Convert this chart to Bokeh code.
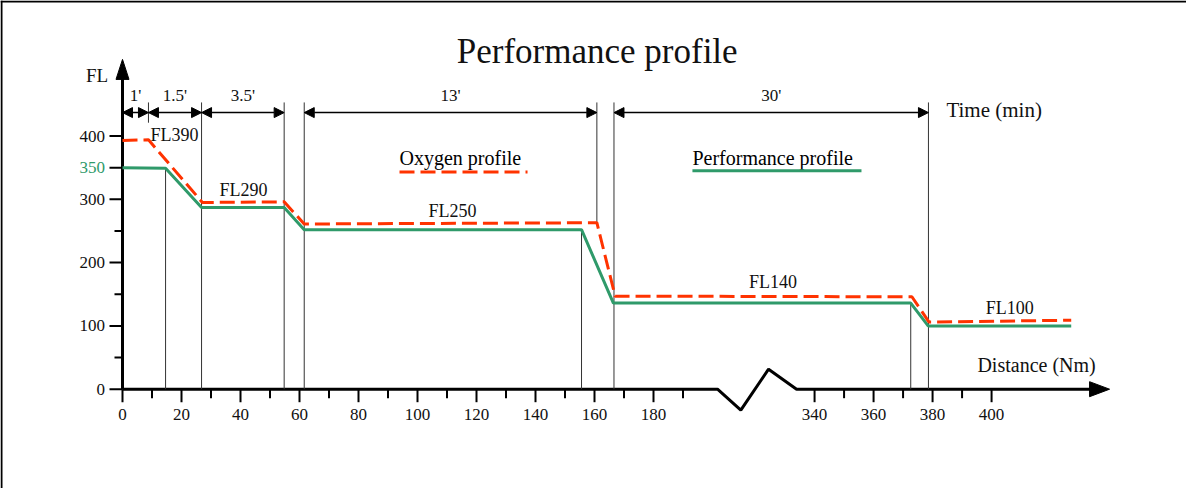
from bokeh.plotting import figure
from bokeh.models import Arrow, NormalHead, ColumnDataSource, Range1d
from bokeh.embed import file_html
from bokeh.resources import INLINE
from bokeh.core.properties import value

# ---------------- data (distance in Nm, altitude in FL) ----------------
perf_dist = [0, 14.6, 26.8, 54.8, 61.6, 155.6, 166.4, 372.6, 378.5, 427]
perf_fl = [350, 349, 287, 287, 252, 252, 136, 136, 100, 100]
oxy_dist = [0, 8.8, 27.1, 54.8, 61.6, 160.8, 167.0, 373.0, 378.8, 427]
oxy_fl = [393, 394, 295, 296, 261, 263, 147, 146, 106, 109]

time_start = [0, 8.8, 26.8, 61.6, 166.6]
time_end = [8.8, 26.8, 54.8, 160.8, 378.6]
time_labels = ["1'", "1.5'", "3.5'", "13'", "30'"]

vline_dist = [8.8, 14.6, 26.8, 54.8, 61.6, 155.6, 160.8, 166.6, 372.6, 378.6]
vline_top = [453, 349, 453, 453, 453, 252, 453, 453, 136, 453]
vline_bottom = [421, 0, 0, 0, 0, 0, 263, 0, 0, 0]

fl_labels = ["FL390", "FL290", "FL250", "FL140", "FL100"]
fl_label_dist = [9.5, 32.9, 111.9, 325.9, 406.2]
fl_label_alt = [402, 315, 281.5, 168.6, 127.5]
fl_label_align = ["left", "left", "center", "center", "center"]

x_ticks_left = list(range(0, 200, 10))
x_labels_left = list(range(0, 200, 20))
x_ticks_right = list(range(340, 410, 10))
x_labels_right = [340, 360, 380, 400]
y_ticks = [0, 50, 100, 150, 200, 250, 300, 350, 400]
y_labels = [0, 100, 200, 300, 350, 400]
y_label_colors = ["#111111", "#111111", "#111111", "#111111", "#2f9a6a", "#111111"]

# ---------------- layout helpers ----------------
SX = 2.95     # px per Nm
SY = 0.633    # px per FL
GAP = 105.4   # Nm cut out by the axis break
BREAK = 250


def fold(d):
    return d if d < BREAK else d - GAP


def fx(v):
    return [fold(d) for d in v]


def px_x(px):
    return px / SX


def px_y(px):
    return px / SY


RED = "#ff3300"
GREEN = "#2f9a6a"
FONT = value("Liberation Serif")

W, H = 1186, 488
p = figure(width=W, height=H, output_backend="svg", toolbar_location=None,
           x_axis_type=None, y_axis_type=None, min_border=0,
           x_range=Range1d(-122 / SX, (1194 - 130) / SX),
           y_range=Range1d(-(496 - 396.7) / SY, (396.7 - 8) / SY))
p.outline_line_color = None
p.background_fill_color = "white"
p.border_fill_color = "white"
p.grid.visible = False

xr0, yr1 = p.x_range.start, p.y_range.end
# page frame (left and top edges)
p.segment(x0=[xr0 + px_x(1), xr0], y0=[yr1, yr1 - px_y(1)],
          x1=[xr0 + px_x(1), p.x_range.end], y1=[p.y_range.start, yr1 - px_y(1)],
          line_color="black", line_width=2)

# ---------------- axes ----------------
x_end = 334.6
brk_l, brk_r = 201.7, 228.5
p.line([0, brk_l, 209.6, 219.0, brk_r, x_end - px_x(18)],
       [0, 0, -px_y(21), px_y(20), 0, 0], line_color="black", line_width=3)
p.patch([x_end, x_end - px_x(20), x_end - px_x(20)],
        [0, px_y(7.5), -px_y(7.5)], color="black")
y_end = 521
p.line([0, 0], [0, y_end - px_y(18)], line_color="black", line_width=3)
p.patch([0, -px_x(6.5), px_x(6.5)], [y_end, y_end - px_y(20), y_end - px_y(20)], color="black")

xt = x_ticks_left + fx(x_ticks_right)
xt_major = set(x_labels_left + fx(x_labels_right))
p.segment(x0=xt, x1=xt, y0=[0] * len(xt),
          y1=[-px_y(13) if t in xt_major else -px_y(9) for t in xt],
          line_color="black", line_width=2)
p.segment(x0=[0] * len(y_ticks),
          x1=[-px_x(13) if t in y_labels else -px_x(8) for t in y_ticks],
          y0=y_ticks, y1=y_ticks, line_color="black", line_width=2)

xl = x_labels_left + x_labels_right
p.text(x=x_labels_left + fx(x_labels_right), y=[-px_y(25)] * len(xl),
       text=[str(v) for v in xl], text_font=FONT, text_font_size="17px",
       text_align="center", text_baseline="middle", text_color="#111111")
p.text(x=[-px_x(17.5)] * len(y_labels), y=y_labels, text=[str(v) for v in y_labels],
       text_font=FONT, text_font_size="17px", text_align="right",
       text_baseline="middle", text_color=y_label_colors)

p.text(x=[px_x(-25.5)], y=[495], text=["FL"], text_font=FONT, text_font_size="19px",
       text_align="center", text_baseline="middle", text_color="#111111")
p.text(x=[289.8], y=[39], text=["Distance (Nm)"], text_font=FONT, text_font_size="20px",
       text_align="left", text_baseline="middle", text_color="#111111")
p.text(x=[279.3], y=[441], text=["Time (min)"], text_font=FONT, text_font_size="21px",
       text_align="left", text_baseline="middle", text_color="#111111")
p.text(x=[162.4], y=[533], text=["Performance  profile"], text_font=FONT,
       text_font_size="35px", text_align="center", text_baseline="middle",
       text_color="#111111")

# ---------------- reference lines & time arrows ----------------
p.segment(x0=fx(vline_dist), x1=fx(vline_dist), y0=vline_bottom, y1=vline_top,
          line_color="#333333", line_width=1)

arrow_y = 437
src = ColumnDataSource(dict(x0=fx(time_start), x1=fx(time_end),
                            y0=[arrow_y] * len(time_start), y1=[arrow_y] * len(time_start)))
p.add_layout(Arrow(source=src, x_start="x0", y_start="y0", x_end="x1", y_end="y1",
                   line_width=1.5, line_color="black",
                   start=NormalHead(size=10, fill_color="black", line_color="black", line_width=1),
                   end=NormalHead(size=10, fill_color="black", line_color="black", line_width=1)))
p.text(x=[(fold(a) + fold(b)) / 2 for a, b in zip(time_start, time_end)],
       y=[464] * len(time_labels), text=time_labels, text_font=FONT,
       text_font_size="17px", text_align="center", text_baseline="middle",
       text_color="#111111")

# ---------------- profiles ----------------
p.line(fx(perf_dist), perf_fl, line_color=GREEN, line_width=3)
p.line(fx(oxy_dist), oxy_fl, line_color=RED, line_width=3, line_dash="15 6")

for lab, d, a, al in zip(fl_labels, fl_label_dist, fl_label_alt, fl_label_align):
    p.text(x=[fold(d)], y=[a], text=[lab], text_font=FONT, text_font_size="18px",
           text_align=al, text_baseline="middle", text_color="#111111")

# ---------------- legend ----------------
p.text(x=[93.9], y=[365], text=["Oxygen profile"], text_font=FONT, text_font_size="20px",
       text_align="left", text_baseline="middle", text_color="black")
p.line([93.9, 137.3], [343, 343], line_color=RED, line_width=3, line_dash="15 6")
p.text(x=[193.2], y=[365], text=["Performance profile"], text_font=FONT,
       text_font_size="20px", text_align="left", text_baseline="middle", text_color="black")
p.line([193.2, 250.5], [345, 345], line_color=GREEN, line_width=3)

open("out.html", "w").write(file_html(p, INLINE))
